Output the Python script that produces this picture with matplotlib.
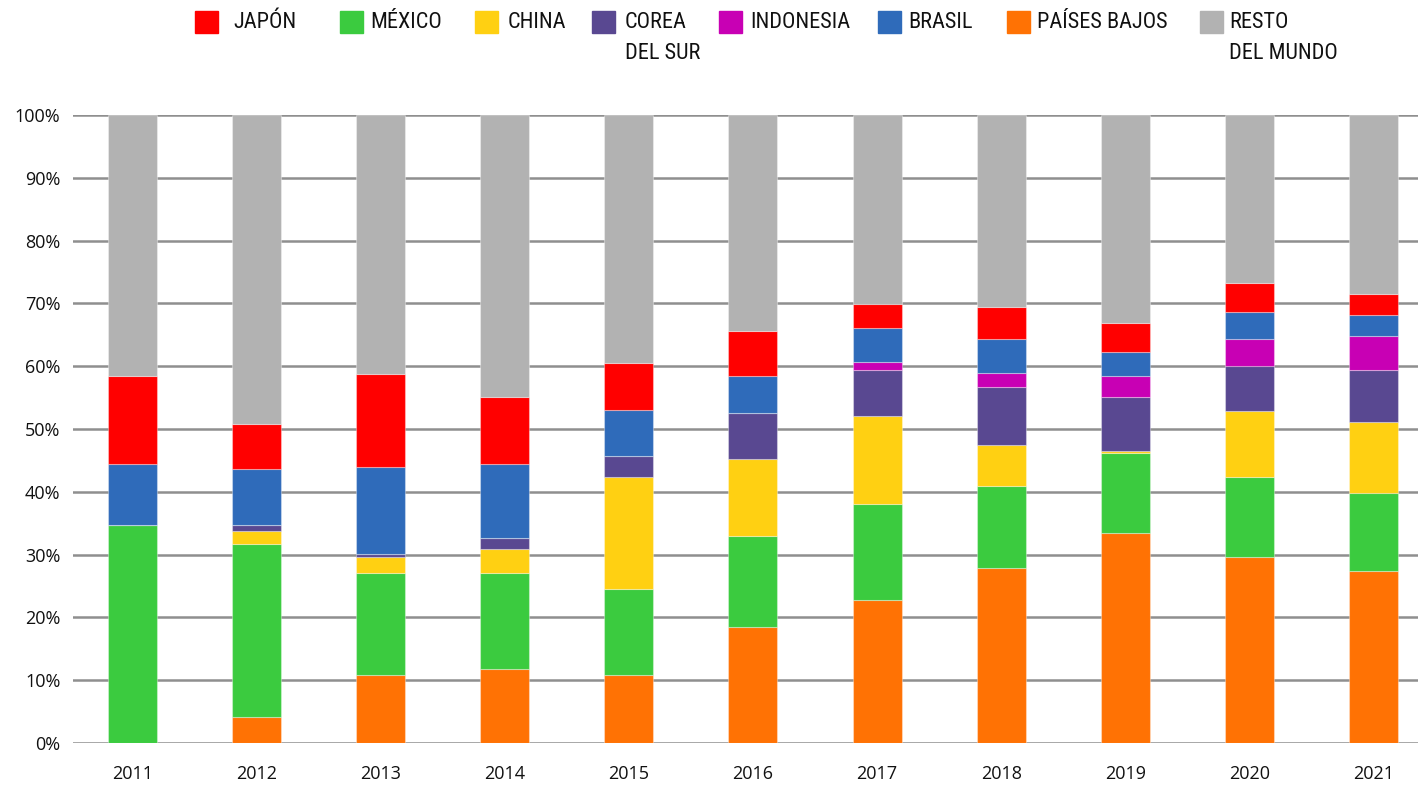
import matplotlib
matplotlib.use("Agg")
import matplotlib.pyplot as plt
from matplotlib import font_manager
from matplotlib.patches import Rectangle
import numpy as np

years = ["2011", "2012", "2013", "2014", "2015", "2016", "2017", "2018", "2019", "2020", "2021"]
paises_bajos = [0.0, 4.1, 10.8, 11.8, 10.8, 18.5, 22.8, 27.9, 33.4, 29.6, 27.4]
mexico       = [34.7, 27.6, 16.3, 15.3, 13.7, 14.5, 15.3, 13.0, 12.8, 12.8, 12.4]
china        = [0.0, 2.1, 2.5, 3.8, 17.9, 12.2, 14.0, 6.6, 0.3, 10.5, 11.3]
corea        = [0.0, 0.9, 0.5, 1.7, 3.3, 7.3, 7.3, 9.2, 8.6, 7.1, 8.3]
indonesia    = [0.0, 0.0, 0.0, 0.0, 0.0, 0.0, 1.3, 2.2, 3.3, 4.3, 5.4]
brasil       = [9.7, 8.9, 13.9, 11.8, 7.3, 5.9, 5.4, 5.4, 3.9, 4.3, 3.4]
japon        = [14.0, 7.2, 14.8, 10.7, 7.5, 7.2, 3.8, 5.1, 4.6, 4.6, 3.3]
resto        = [41.6, 49.2, 41.2, 44.9, 39.5, 34.4, 30.1, 30.6, 33.1, 26.8, 28.5]

yticks = [0, 10, 20, 30, 40, 50, 60, 70, 80, 90, 100]
ytick_labels = ["0%", "10%", "20%", "30%", "40%", "50%", "60%", "70%", "80%", "90%", "100%"]

legend_labels = ["JAPÓN", "MÉXICO", "CHINA", "COREA\nDEL SUR", "INDONESIA", "BRASIL", "PAÍSES BAJOS", "RESTO\nDEL MUNDO"]

colors = {
    "pb": "#FF7204", "mx": "#3BCB3F", "cn": "#FFD012", "kr": "#594891",
    "id": "#C800B4", "br": "#2F6BBA", "jp": "#FF0000", "rest": "#B2B2B2",
}

available = {f.name for f in font_manager.fontManager.ttflist}
legend_font = "Open Sans"
legend_size = 14.5
for cand in ["Roboto Condensed", "Open Sans Condensed", "Liberation Sans Narrow"]:
    if cand in available:
        legend_font = cand
        legend_size = 16
        break
tick_font = "Open Sans" if "Open Sans" in available else "DejaVu Sans"

fig = plt.figure(figsize=(14.18, 7.86), dpi=100)
ax = fig.add_axes([73 / 1418, 43 / 786, 1 - 73 / 1418, (743 - 115) / 786])

x = np.arange(len(years))
series = [
    (paises_bajos, "pb"), (mexico, "mx"), (china, "cn"), (corea, "kr"),
    (indonesia, "id"), (brasil, "br"), (japon, "jp"), (resto, "rest"),
]
bottom = np.zeros(len(years))
for vals, key in series:
    v = np.array(vals)
    ax.bar(x, v, bottom=bottom, width=0.395, color=colors[key],
           edgecolor=(1, 1, 1, 0.35), linewidth=0.8, zorder=3)
    bottom += v

ax.set_xlim(-0.48, 10.36)
ax.set_ylim(0, 100)
ax.set_yticks(yticks)
ax.set_yticklabels(ytick_labels, fontfamily=tick_font, fontsize=13)
ax.set_xticks(x)
ax.set_xticklabels(years, fontfamily=tick_font, fontsize=13)
ax.tick_params(axis="both", length=0, colors="#111111")
ax.tick_params(axis="y", pad=9)
ax.tick_params(axis="x", pad=16)
for s in ax.spines.values():
    s.set_visible(False)
ax.yaxis.grid(True, color="#8f8f8f", linewidth=1.8, zorder=0)
ax.set_axisbelow(True)

# legend
sq_x = [195, 340, 475, 592, 719, 878, 1007, 1200]
tx_x = [233, 370, 508, 625, 750, 908, 1037, 1229]
leg_keys = ["jp", "mx", "cn", "kr", "id", "br", "pb", "rest"]
W, H = 1418, 786
for sx, tx, key, lab in zip(sq_x, tx_x, leg_keys, legend_labels):
    fig.patches.append(Rectangle((sx / W, 1 - 33 / H), 23 / W, 22 / H,
                                 transform=fig.transFigure, color=colors[key]))
    fig.text(tx / W, 1 - 12 / H, lab, ha="left", va="top", fontsize=legend_size,
             fontfamily=legend_font, color="#111111", linespacing=1.6)

fig.savefig("out.png", dpi=100)
